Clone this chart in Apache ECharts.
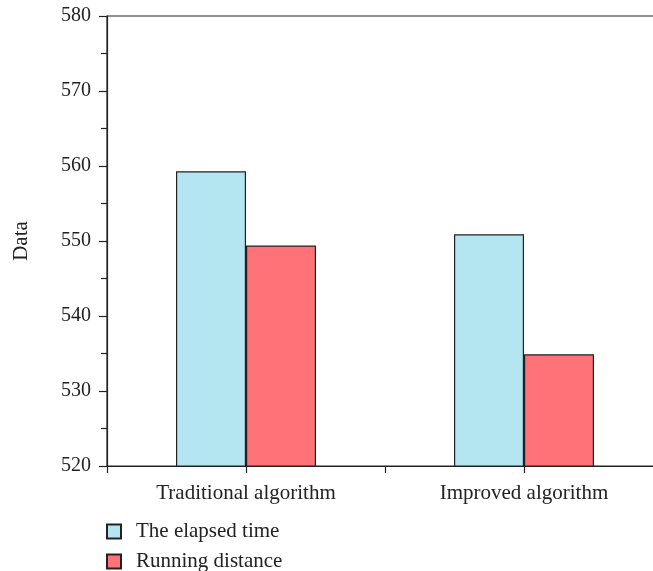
<!DOCTYPE html>
<html>
<head>
<meta charset="utf-8">
<script src="https://cdn.jsdelivr.net/npm/echarts@6/dist/echarts.min.js"></script>
<style>
html,body{margin:0;padding:0;background:#fff;}
#chart{width:653px;height:571px;}
</style>
</head>
<body>
<div id="chart"></div>
<script>
const categories = ['Traditional algorithm', 'Improved algorithm'];
const seriesNames = ['The elapsed time', 'Running distance'];
const elapsedTime = [559.3, 550.9];
const runningDistance = [549.4, 534.9];
const yTicks = { min: 520, max: 580, interval: 10 };

const FONT = '"Liberation Serif", "DejaVu Serif", serif';
const legendText = { fontFamily: FONT, fontSize: 21, color: '#222', padding: [0, 0, 0, 10] };
const chart = echarts.init(document.getElementById('chart'));
chart.setOption({
  backgroundColor: '#ffffff',
  animation: false,
  grid: { left: 107, top: 16, width: 556, height: 450, outerBoundsMode: 'none', containLabel: false,
          show: true, borderColor: '#222', borderWidth: 1.2, backgroundColor: 'transparent' },
  legend: [{
    orient: 'vertical', left: 101, top: 516,
    itemWidth: 14, itemHeight: 14, icon: 'rect',
    textStyle: legendText, data: [seriesNames[0]]
  }, {
    orient: 'vertical', left: 101, top: 546,
    itemWidth: 14, itemHeight: 14, icon: 'rect',
    textStyle: legendText, data: [seriesNames[1]]
  }],
  xAxis: [{
    type: 'category', data: categories,
    axisLine: { lineStyle: { color: '#222', width: 1.2 } },
    axisTick: { show: true, length: 7, alignWithLabel: false, lineStyle: { color: '#222', width: 1.2 } },
    axisLabel: { fontFamily: FONT, fontSize: 21, color: '#222', margin: 17 }
  }, {
    type: 'category', data: categories, position: 'bottom',
    axisLine: { show: false },
    axisTick: { show: true, length: 7, alignWithLabel: true, lineStyle: { color: '#222', width: 1.2 } },
    axisLabel: { show: false }
  }],
  yAxis: {
    type: 'value', min: yTicks.min, max: yTicks.max, interval: yTicks.interval,
    name: 'Data', nameLocation: 'middle', nameGap: 75,
    nameTextStyle: { fontFamily: FONT, fontSize: 21, color: '#222' },
    axisLine: { show: true, lineStyle: { color: '#222', width: 1.2 } },
    axisTick: { show: true, length: 8, lineStyle: { color: '#222', width: 1.2 } },
    minorTick: { show: true, splitNumber: 2, length: 6, lineStyle: { color: '#222', width: 1.2 } },
    splitLine: { show: false },
    axisLabel: { fontFamily: FONT, fontSize: 20, color: '#222', margin: 16 }
  },
  series: [{
    name: seriesNames[0], type: 'bar', data: elapsedTime, barWidth: 70, barGap: '0%',
    itemStyle: { color: '#B4E6F1', borderColor: '#222', borderWidth: 1.2 }
  }, {
    name: seriesNames[1], type: 'bar', data: runningDistance, barWidth: 70, barGap: '0%',
    itemStyle: { color: '#FF7378', borderColor: '#222', borderWidth: 1.2 }
  }]
});
</script>
</body>
</html>
